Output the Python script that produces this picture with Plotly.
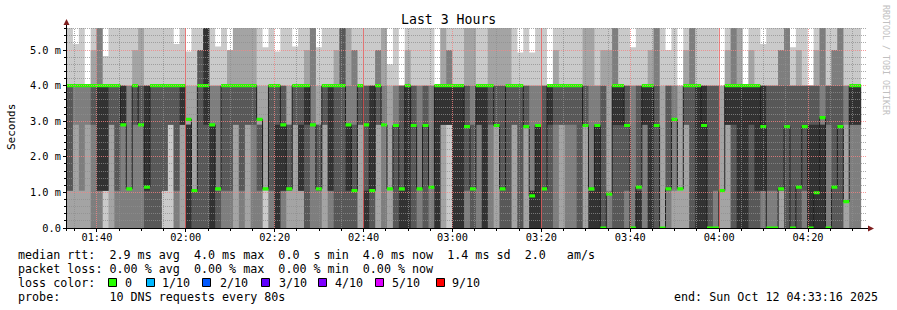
import plotly.graph_objects as go
from datetime import datetime, timedelta

# ---------------- data ----------------
START = "2025-10-12 01:33:16"
END = "2025-10-12 04:33:16"
STEP_S = 80

# median rtt per 80 s step (ms)
median = [4.0]*9 + [2.9, 1.1, 4.0, 2.9, 1.15] + [4.0]*6 + [3.05, 1.05, 4.0, 4.0, 2.9, 1.1] + [4.0]*6 + \
    [3.05, 1.1, 4.0, 4.0, 2.9, 1.1, 4.0, 4.0, 4.0, 2.9, 1.1, 4.0, 4.0, 4.0, 4.0, 2.9, 1.05, 4.0, 2.9, 1.05,
     4.0, 2.9, 1.1, 2.88, 1.1, 4.0, 2.88, 1.1, 2.88, 1.15] + [4.0]*5 + \
    [2.85, 1.1, 4.0, 4.0, 4.0, 2.88, 1.1, 4.0, 4.0, 4.0, 2.85, 0.9, 2.88, 1.1] + [4.0]*6 + \
    [2.88, 1.1, 2.88, 0.0, 0.95, 4.0, 4.0, 2.88, 0.0, 1.15, 4.0, 4.0, 2.88, 0.0, 1.1, 3.05, 1.1, 4.0, 4.0, 4.0,
     2.88, 0.0, 0.0, 1.05] + [4.0]*6 + \
    [2.85, 0.0, 0.0, 1.1, 2.85, 0.0, 1.15, 2.85, 0.0, 0.99, 3.1, 0.0, 1.15, 2.85, 0.74, 4.0, 4.0]

# highest ping per step (ms)
top = [5.62, 5.17, 5.62, 4.0, 5.62, 5.62, 4.83, 5.62, 5.62, 5.62,
       5.62, 5.62, 5.62, 5.62, 5.62, 5.62, 5.62, 5.62, 5.17, 5.62,
       4.96, 5.62, 5.62, 5.62, 5.62, 5.1, 5.62, 5.1, 5.62, 5.62,
       5.62, 5.62, 5.62, 5.08, 5.62, 4.96, 5.62, 5.62, 5.1, 5.62,
       5.62, 5.62, 5.08, 5.62, 5.62, 5.62, 5.62, 5.62, 5.62, 5.62,
       5.62, 5.62, 5.62, 5.62, 4.6, 5.62, 4.0, 5.62, 5.62, 5.62,
       5.62, 5.62, 4.0, 5.62, 5.62, 5.62, 5.62, 5.62, 5.62, 5.62,
       5.62, 5.62, 5.62, 5.62, 5.62, 5.62, 4.93, 5.62, 4.93, 5.62,
       5.62, 4.0, 5.62, 5.62, 5.62, 5.62, 5.62, 5.62, 5.62, 5.62,
       5.62, 5.62, 5.62, 5.62, 5.62, 5.08, 5.62, 5.62, 5.62, 5.62,
       5.62, 5.0, 5.62, 4.0, 5.62, 5.62, 5.62, 5.62, 5.62, 5.62,
       4.0, 5.62, 5.62, 5.62, 4.0, 5.62, 5.62, 5.17, 5.62, 5.62,
       5.62, 5.62, 5.08, 5.62, 5.62, 4.0, 5.62, 5.62, 5.62, 5.62,
       5.62, 5.62, 5.62, 5.62]

# smoke depth (number of ping pairs) in zones 0-1.05 / 1.05-2.9 / 2.9-4 / 4-5 / 5-top ms
depth = ["24411", "22311", "23311", "22300", "33421", "35533", "15510", "22411", "34411", "33511",
         "33311", "33421", "33422", "45511", "44411", "44411", "14411", "11411", "34411", "22511",
         "55210", "42211", "44441", "44555", "55311", "43311", "34411", "34420", "22422", "34422",
         "22422", "33422", "34211", "12211", "34411", "55410", "35411", "24211", "22411", "25411",
         "44521", "33333", "34211", "22411", "35511", "44421", "44444", "45322", "44331", "22411",
         "54411", "45511", "22431", "33322", "22210", "44311", "54400", "55521", "44411", "33311",
         "44411", "33311", "55500", "22522", "11531", "55511", "55511", "34422", "44322", "33511",
         "55511", "33422", "22422", "44422", "44422", "22411", "44410", "22411", "52310", "55311",
         "44411", "44500", "33421", "22411", "33411", "33411", "44411", "22422", "53322", "55311",
         "44421", "32221", "44533", "44511", "34411", "33311", "53411", "33511", "55521", "44433",
         "22211", "34410", "23311", "22200", "22421", "44433", "55511", "55511", "44411", "34411",
         "22200", "22521", "44533", "55522", "55500", "44521", "45511", "35511", "34411", "34411",
         "24431", "44433", "44411", "44421", "34411", "55400", "55421", "55333", "33411", "44431",
         "44433", "22311", "33511", "33511"]

zone_edges = [0.0, 1.05, 2.9, 4.0, 5.0, 5.62]

x_labels = ["01:40", "02:00", "02:20", "02:40", "03:00", "03:20", "03:40", "04:00", "04:20"]
x_strong = ["02:00", "02:40", "03:20", "04:00"]
y_ticks = [0, 1, 2, 3, 4, 5]
y_ticktext = ["0.0", "1.0 m", "2.0 m", "3.0 m", "4.0 m", "5.0 m"]

loss_labels = ["0", "1/10", "2/10", "3/10", "4/10", "5/10", "9/10"]
loss_colors = ["#26ff00", "#00b8ff", "#0059ff", "#5e00ff", "#7e00ff", "#dd00ff", "#ff0000"]

smoke_colors = ["#cacaca", "#a4a4a4", "#7e7e7e", "#585858", "#323232"]

# ---------------- derive pings ----------------
t0 = datetime.strptime(START, "%Y-%m-%d %H:%M:%S")
t_end = datetime.strptime(END, "%Y-%m-%d %H:%M:%S")
n = len(median)
pings = []
for i in range(n):
    d = [int(c) for c in depth[i]]
    p = [0.0]*10
    for k in range(1, 6):
        zs = [z for z in range(5) if d[z] >= k]
        if zs:
            lo = zone_edges[zs[0]]
            hi = min(zone_edges[zs[-1]+1], top[i])
        else:
            lo = hi = median[i]
        p[k-1] = lo
        p[10-k] = hi
    pings.append(p)

starts = [t0 + timedelta(seconds=STEP_S*i) for i in range(n+1)]

def band(lower, upper):
    xs, ys = [], []
    for i in range(n):
        xs += [starts[i], starts[i+1]]
        ys += [upper[i], upper[i]]
    for i in range(n-1, -1, -1):
        xs += [starts[i+1], starts[i]]
        ys += [lower[i], lower[i]]
    return xs, ys

fig = go.Figure()
for k in range(5):
    lower = [pings[i][k] for i in range(n)]
    upper = [pings[i][9-k] for i in range(n)]
    xs, ys = band(lower, upper)
    fig.add_trace(go.Scatter(x=xs, y=ys, mode="lines", fill="toself", fillcolor=smoke_colors[k],
                             line=dict(width=0), hoverinfo="skip", showlegend=False))

fig.add_trace(go.Scatter(x=starts, y=median + [median[-1]], mode="lines",
                         line=dict(color="#202020", width=1, shape="hv"),
                         hoverinfo="skip", showlegend=False))
half = 0.045
xs, ys = band([m - half for m in median], [m + half for m in median])
fig.add_trace(go.Scatter(x=xs, y=ys, mode="lines", fill="toself", fillcolor=loss_colors[0],
                         line=dict(width=0), hoverinfo="skip", showlegend=False))

# ---------------- layout helpers ----------------
L, R, T, B = 67, 867, 28, 228
W, H = 897, 310
ymax = 5.62
def px(xp):
    return (xp - L) / (R - L)
def py(yp):
    return (B - yp) / (B - T)
def snap(v):
    return int(v) + 0.5

MONO = "DejaVu Sans Mono"
MINOR = "rgba(143,143,143,0.75)"
MAJOR = "rgba(245,130,130,0.8)"
STRONG = "rgba(235,90,90,0.75)"
shapes = []
# grid on top of data, snapped to pixel rows/columns
v = 0.2
while v < ymax:
    major = abs(v - round(v)) < 1e-6
    yp = snap(B - v / ymax * (B - T))
    shapes.append(dict(type="line", xref="paper", yref="paper", x0=0, x1=1, y0=py(yp), y1=py(yp),
                       layer="above", line=dict(color=MAJOR if major else MINOR, width=1, dash="1px,1px")))
    v = round(v + 0.2, 6)
day = START[:10]
total = (t_end - t0).total_seconds()
tt = t0.replace(minute=35, second=0)
while tt < t_end:
    lab = tt.strftime("%H:%M")
    xp = snap(L + (tt - t0).total_seconds() / total * (R - L))
    if lab in x_strong:
        line = dict(color=STRONG, width=1)
    elif lab in x_labels:
        line = dict(color=MAJOR, width=1, dash="1px,1px")
    else:
        line = dict(color=MINOR, width=1, dash="1px,1px")
    shapes.append(dict(type="line", xref="paper", yref="paper", x0=px(xp), x1=px(xp), y0=0, y1=1,
                       layer="above", line=line))
    tt += timedelta(minutes=5)

# axis lines & arrows
shapes.append(dict(type="line", xref="paper", yref="paper", x0=px(63), x1=px(869), y0=py(228.5), y1=py(228.5),
                   layer="above", line=dict(color="black", width=1)))
shapes.append(dict(type="line", xref="paper", yref="paper", x0=px(66.5), x1=px(66.5), y0=py(231), y1=py(24),
                   layer="above", line=dict(color="black", width=1)))
shapes.append(dict(type="path", xref="paper", yref="paper",
                   path=f"M {px(63.5)} {py(25)} L {px(69.5)} {py(25)} L {px(66.5)} {py(19)} Z",
                   fillcolor="#7f1f1f", line=dict(width=0), layer="above"))
shapes.append(dict(type="path", xref="paper", yref="paper",
                   path=f"M {px(868)} {py(225.5)} L {px(868)} {py(231.5)} L {px(874)} {py(228.5)} Z",
                   fillcolor="#7f1f1f", line=dict(width=0), layer="above"))

annotations = []
def text(x, y, s, size=11.7, xanchor="left", color="black", angle=0):
    annotations.append(dict(xref="paper", yref="paper", x=px(x), y=py(y), text=s.replace(" ", "\u00a0"),
                            showarrow=False, xanchor=xanchor, yanchor="middle", textangle=angle,
                            font=dict(family=MONO, size=size, color=color)))

text(448, 20, "Last 3 Hours", size=13.2, xanchor="center")
text(11, 127, "Seconds", size=11, xanchor="center", angle=-90)
text(886, 60, "RRDTOOL / TOBI OETIKER", size=8.3, xanchor="center", color="#c0c0c0", angle=90)
text(16, 254.5, "median rtt:  2.9 ms avg  4.0 ms max  0.0  s min  4.0 ms now  1.4 ms sd  2.0   am/s")
text(16, 268.5, "packet loss: 0.00 % avg  0.00 % max  0.00 % min  0.00 % now")
text(16, 282.5, "loss color:")
sq_x = [108, 146, 202, 261, 318, 375, 436]
lab_x = [123, 160, 218, 277, 333, 390, 450]
for sx, lx, lab, col in zip(sq_x, lab_x, loss_labels, loss_colors):
    shapes.append(dict(type="rect", xref="paper", yref="paper", x0=px(sx + 0.5), x1=px(sx + 8.5),
                       y0=py(286.5), y1=py(278.5), fillcolor=col, line=dict(color="black", width=1)))
    text(lx, 282.5, lab)
text(16, 296.8, "probe:       10 DNS requests every 80s")
text(880, 296.8, "end: Sun Oct 12 04:33:16 2025", xanchor="right")

fig.update_layout(
    width=W, height=H, margin=dict(l=L, r=W-R, t=T, b=H-B),
    paper_bgcolor="white", plot_bgcolor="white", showlegend=False,
    shapes=shapes, annotations=annotations,
    xaxis=dict(type="date", range=[START, END], showgrid=False, zeroline=False,
               tickvals=[f"{day} {lab}:00" for lab in x_labels], ticktext=x_labels,
               ticks="outside", ticklen=3, tickcolor="black", tickwidth=1, ticklabelstandoff=-3,
               minor=dict(dtick=300000, tick0=f"{day} 01:35:00", ticks="outside", ticklen=2,
                          tickcolor="black", showgrid=False),
               tickfont=dict(family=MONO, size=10.3, color="black"), showline=False),
    yaxis=dict(range=[0, ymax], showgrid=False, zeroline=False, tickvals=y_ticks, ticktext=y_ticktext,
               ticks="outside", ticklen=3, tickcolor="black", tickwidth=1,
               minor=dict(dtick=0.2, ticks="outside", ticklen=2, tickcolor="black", showgrid=False),
               tickfont=dict(family=MONO, size=10.3, color="black"), showline=False),
)

fig.write_html("out.html")
